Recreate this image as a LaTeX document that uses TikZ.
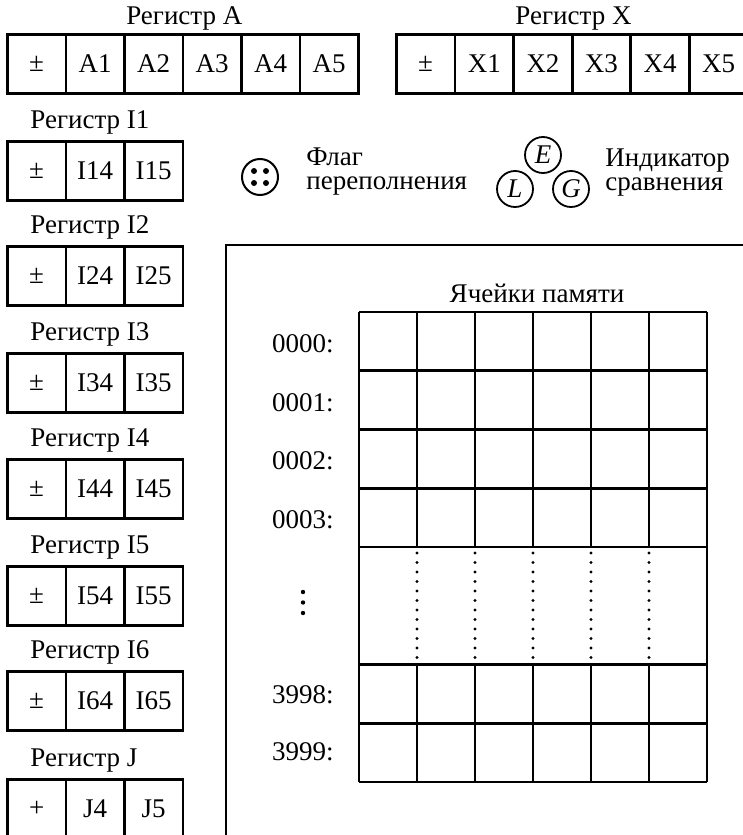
\documentclass[tikz,border=0pt]{standalone}
\usepackage{fontspec}
\setmainfont{Liberation Serif}
\usetikzlibrary{positioning}

\begin{document}
\begin{tikzpicture}[
    x=0.5pt, y=-0.5pt,
    lbl/.style={font=\fontsize{13.5}{15}\selectfont, inner sep=1pt},
    cell/.style={draw, line width=1.4pt, minimum width=29.25pt, minimum height=29.5pt,
                 inner sep=0pt, anchor=north west, font=\fontsize{13.5}{15}\selectfont},
    grid/.style={line width=1.4pt},
    dotline/.style={line width=1.6pt, line cap=round, dash pattern=on 0pt off 4.75pt},
    ind/.style={draw, circle, line width=0.9pt, minimum size=18pt, inner sep=0pt,
                font=\fontsize{13.5}{15}\selectfont\itshape},
]
\useasboundingbox (0,0) rectangle (743,835);
% ============================================================
% Registers A and X
% ============================================================
\foreach \c/\txt in {0/±,1/A1,2/A2,3/A3,4/A4,5/A5}
    \node[cell] (rA-\c) at (6+\c*58.5, 33) {\txt};
\node[lbl, above=0pt of rA-2.north east] (lblA) {Регистр A};
%
\foreach \c/\txt in {0/±,1/X1,2/X2,3/X3,4/X4,5/X5}
    \node[cell] (rX-\c) at (395+\c*58.6, 33) {\txt};
\node[lbl, above=0pt of rX-2.north east] (lblX) {Регистр X};
% ============================================================
% Index registers I1..I6 and J
% ============================================================
\foreach \reg/\sgn/\top in {I1/±/140, I2/±/245, I3/±/352, I4/±/458, I5/±/565, I6/±/670, J/+/778} {
    \node[cell] (r\reg-0) at (6, \top) {\sgn};
    \node[cell] (r\reg-1) at (64.5, \top) {\reg4};
    \node[cell] (r\reg-2) at (123, \top) {\reg5};
    \node[lbl, anchor=south west, above right=1.5pt and 11pt of r\reg-0.north west] (lbl\reg) {Регистр \reg};
}
% ============================================================
% Overflow flag and comparison indicator
% ============================================================
\node[draw, circle, line width=1pt, minimum size=18pt, inner sep=0pt] (flag) at (260,177) {};
\foreach \dx/\dy in {-1/-1, 1/-1, -1/1, 1/1}
    \fill ([shift={(\dx*3pt,\dy*3pt)}]flag.center) circle (1.5pt);
\node[lbl, anchor=west, align=left, font=\fontsize{13.5}{12}\selectfont] (flagtxt) at (304,172) {Флаг\\переполнения};
%
\node[ind] (indE) at (543,155) {E};
\node[ind] (indL) at (515,189) {L};
\node[ind] (indG) at (571,189) {G};
\node[lbl, anchor=west, align=left, font=\fontsize{13.5}{12}\selectfont] (indtxt) at (603,173) {Индикатор\\сравнения};
% ============================================================
% Memory
% ============================================================
\draw[grid] (750,245) -- (226,245) -- (226,840);
\node[lbl] (memtitle) at (537,293) {Ячейки памяти};
% horizontal lines
\foreach \y in {312,370.75,429.5,488.25,547,664.5,723.25,782}
    \draw[grid] (359,\y) -- (707,\y);
% vertical lines
\draw[grid] (359,312) -- (359,782);
\draw[grid] (707,312) -- (707,782);
\foreach \x in {417,475,533,591,649} {
    \draw[grid] (\x,312) -- (\x,547);
    \draw[grid] (\x,664.5) -- (\x,782);
    \draw[dotline] (\x,553) -- (\x,658);
}
% addresses
\foreach \addr/\y in {0000/344, 0001/403, 0002/461, 0003/520, 3998/695, 3999/752}
    \node[lbl, anchor=east] (addr\addr) at (336,\y) {\addr:};
\foreach \y in {592,602.5,613}
    \fill (303,\y) circle (1.1pt);
\end{tikzpicture}
\end{document}
